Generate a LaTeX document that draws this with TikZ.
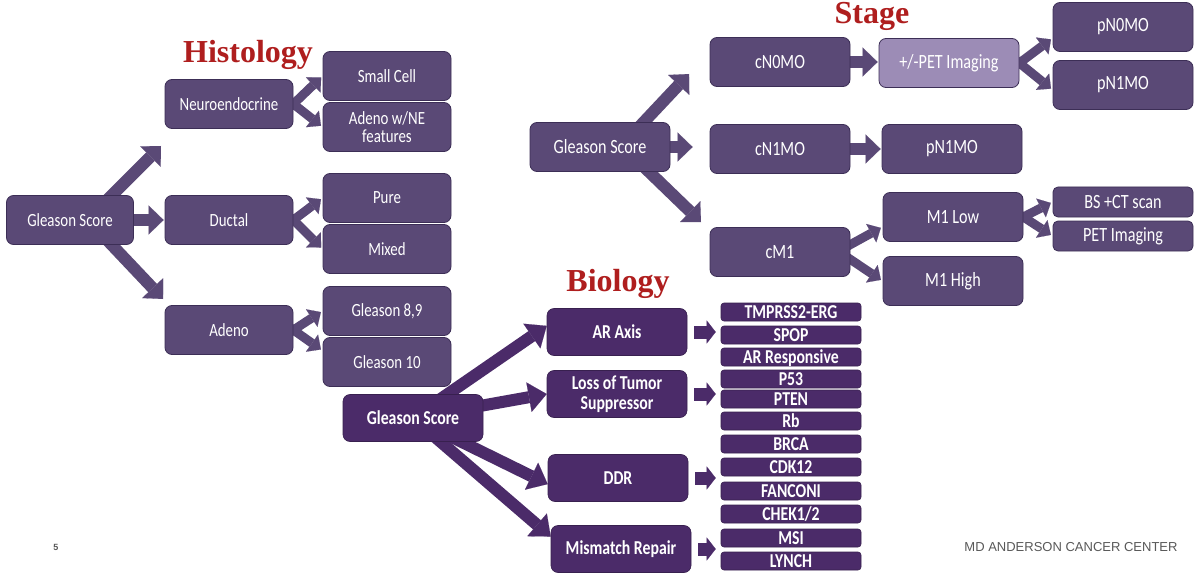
\documentclass[tikz,border=0pt]{standalone}
\usepackage{fontspec}
\usepackage{tikz}
\usetikzlibrary{arrows.meta,calc,backgrounds}
\newfontfamily\boxfont{Carlito}[FakeStretch=0.8]
\newfontfamily\titlefont{Liberation Serif}
\newfontfamily\footfont{Liberation Sans}
\definecolor{hpurple}{RGB}{90,73,118}
\definecolor{hedge}{RGB}{60,46,86}
\definecolor{bpurple}{RGB}{75,43,105}
\definecolor{petlight}{RGB}{156,140,182}
\definecolor{titlered}{RGB}{175,30,30}

\begin{document}
\begin{tikzpicture}[x=1pt,y=-1pt,line join=round,
  hbox/.style={draw=hedge,line width=0.8pt,fill=hpurple,rounded corners=7pt,text=white,
    minimum width=128pt,minimum height=49pt,inner sep=2pt,align=center,
    font=\boxfont\fontsize{18.6}{18}\selectfont},
  sbox/.style={hbox,minimum width=140pt,font=\boxfont\fontsize{20.2}{20}\selectfont},
  slow/.style={sbox,minimum height=30pt,rounded corners=5pt},
  bbox/.style={draw=bpurple!75!black,line width=0.6pt,fill=bpurple,rounded corners=7pt,text=white,
    minimum width=140pt,minimum height=47pt,inner sep=2pt,align=center,
    font=\boxfont\bfseries\fontsize{19.7}{20}\selectfont},
  gene/.style={bbox,minimum height=18pt,rounded corners=3pt,inner sep=0pt,
    text height=12pt,text depth=0pt},
  title/.style={anchor=base,inner sep=0pt,text=titlered,
    font=\titlefont\bfseries\fontsize{32}{32}\selectfont},
  foot/.style={inner sep=0pt,text=black!65,font=\footfont\fontsize{13}{13}\selectfont},
  harr/.style={draw=hpurple,line width=12pt,shorten <=-4pt,
    -{Triangle[length=15pt,width=29pt,line width=0.1pt]}},
  hsml/.style={draw=hpurple,line width=9pt,shorten <=-4pt,shorten >=2pt,
    -{Triangle[length=11pt,width=21pt,line width=0.1pt]}},
  barr/.style={draw=bpurple,line width=12pt,
    -{Triangle[length=18pt,width=30pt,line width=0.1pt]}},
  bsml/.style={draw=bpurple,line width=13pt,shorten <=7pt,shorten >=5pt,
    -{Triangle[length=9pt,width=23pt,line width=0.1pt]}}]
\useasboundingbox (0,0) rectangle (1200,575);
% ================= Histology =================
  \node[title] (thist) at (248,63) {Histology};
  \node[hbox,minimum width=127pt] (hgs) at (70,220) {Gleason Score};
  \node[hbox] (neuro)  at (229,104) {Neuroendocrine};
  \node[hbox] (ductal) at (229,220) {Ductal};
  \node[hbox] (adeno)  at (229,330) {Adeno};
  \node[hbox] (small)  at (387,76)  {Small Cell};
  \node[hbox] (adne)   at (387,127) {Adeno w/NE\\features};
  \node[hbox] (pure)   at (387,198) {Pure};
  \node[hbox] (mixed)  at (387,249) {Mixed};
  \node[hbox] (g89)    at (387,311) {Gleason 8,9};
  \node[hbox] (g10)    at (387,362) {Gleason 10};
% ================= Stage =================
  \node[title] (tstage) at (872,24) {Stage};
  \node[sbox] (sgs)  at (600,147) {Gleason Score};
  \node[sbox] (cn0)  at (780,62)  {cN0MO};
  \node[sbox,fill=petlight] (pet) at (949,63) {+/-PET Imaging};
  \node[sbox] (pn0)  at (1123,27) {pN0MO};
  \node[sbox] (pn1)  at (1123,85) {pN1MO};
  \node[sbox] (cn1)  at (780,149) {cN1MO};
  \node[sbox] (pn1b) at (952,149) {pN1MO};
  \node[sbox] (cm1)  at (780,252) {cM1};
  \node[sbox] (m1lo) at (953,217) {M1 Low};
  \node[sbox] (m1hi) at (953,281) {M1 High};
  \node[slow] (bsct) at (1123,202) {BS +CT scan};
  \node[slow] (petimg) at (1123,236) {PET Imaging};
% ================= Biology =================
  \node[title] (tbio) at (618,291) {Biology};
  \node[bbox] (bgs)  at (413,418) {Gleason Score};
  \node[bbox] (arax) at (617,332) {AR Axis};
  \node[bbox] (loss) at (617,394) {Loss of Tumor\\Suppressor};
  \node[bbox] (ddr)  at (618,478) {DDR};
  \node[bbox] (mmr)  at (621,549) {Mismatch Repair};
  \foreach \n/\t/\y in {tmp/TMPRSS2-ERG/312,spop/SPOP/335,arr/AR Responsive/357,
      p53/P53/379,pten/PTEN/399,rb/Rb/421,brca/BRCA/444,cdk/CDK12/467,
      fan/FANCONI/491,chek/{CHEK1/2}/514,msi/MSI/538,lynch/LYNCH/561}
    \node[gene] (\n) at (791,\y) {\t};
  % footer
  \node[foot,font=\footfont\bfseries\fontsize{9}{9}\selectfont] (pg) at (56,547) {5};
  \node[foot] (mda) at (1071,547) {MD ANDERSON CANCER CENTER};
% ================= arrows, behind the boxes =================
\begin{scope}[on background layer]
  \fill[white] (0,0) rectangle (1200,575);
  \coordinate (hup) at (161,146);
  \coordinate (hdn) at (163,299);
  \draw[harr] ($(hgs.north)+(38,4)$) -- (hup);
  \draw[harr] ($(hgs.south)+(38,-4)$) -- (hdn);
  \draw[harr,shorten >=1pt] (hgs.east) -- (ductal.west);
  \draw[hsml] (neuro.east)  -- (small.west);
  \draw[hsml] (neuro.east)  -- (adne.west);
  \draw[hsml] (ductal.east) -- (pure.west);
  \draw[hsml] (ductal.east) -- (mixed.west);
  \draw[hsml] (adeno.east)  -- (g89.west);
  \draw[hsml] (adeno.east)  -- (g10.170);
  % stage
  \coordinate (sup) at (689,74);
  \coordinate (sdn) at (701,222);
  \draw[harr] ($(sgs.north)+(40,4)$) -- (sup);
  \draw[harr] ($(sgs.south)+(45,-4)$) -- (sdn);
  \draw[harr,shorten >=17pt] (sgs.east) -- (sgs.east -| cn1.west);
  \draw[harr,shorten >=1pt] (cn0.east) -- (cn0.east -| pet.west);
  \draw[harr,shorten >=1pt] (cn1.east) -- (cn1.east -| pn1b.west);
  \draw[hsml] (pet.east)  -- (pn0.189);
  \draw[hsml] (pet.east)  -- (pn1.184);
  \draw[hsml] (cm1.6)     -- (m1lo.188);
  \draw[hsml] (cm1.-6)    -- (m1hi.west);
  \draw[hsml] (m1lo.east) -- (bsct.west);
  \draw[hsml] (m1lo.east) -- (petimg.west);
  % biology
  \draw[barr] (bgs.center) -- (arax.175);
  \draw[barr] (bgs.center) -- (loss.west);
  \draw[barr] (bgs.center) -- (ddr.185);
  \draw[barr] (bgs.center) -- (mmr.170);
  \foreach \b in {arax,loss,ddr,mmr}
    \draw[bsml] (\b.east) -- (\b.east -| tmp.west);
\end{scope}
\end{tikzpicture}
\end{document}
